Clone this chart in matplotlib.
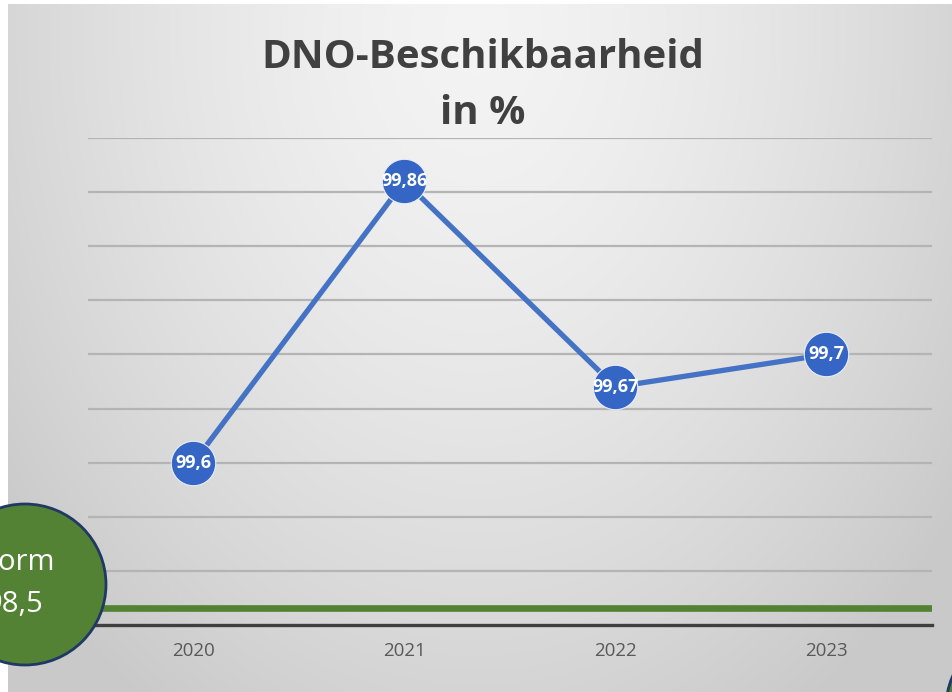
import numpy as np
import matplotlib
matplotlib.use("Agg")
import matplotlib.pyplot as plt
from matplotlib.patches import Ellipse

years = ["2020", "2021", "2022", "2023"]
values = [99.6, 99.86, 99.67, 99.7]
labels = ["99,6", "99,86", "99,67", "99,7"]
norm_line_value = 99.466
y_min, y_max, y_step = 99.45, 99.9, 0.05
title_lines = ["DNO-Beschikbaarheid", "in %"]
norm_lines = ["Norm", "98,5"]

W, H = 953, 692
fig = plt.figure(figsize=(W / 100, H / 100), dpi=100)

# background gradient
bg = fig.add_axes([0, 0, 1, 1], zorder=0)
bg.set_xlim(0, W)
bg.set_ylim(H, 0)
bg.axis("off")
yy, xx = np.mgrid[0:H, 0:W]
d = np.sqrt(((xx - 476) / 560.0) ** 2 + ((yy - 30) / 760.0) ** 2)
v = np.clip(0.955 - 0.15 * d ** 1.5, 0.79, 1)
img = np.dstack([v, v, v])
img[:, :8] = 1.0
img[:4, :] = 1.0
bg.imshow(img, extent=[0, W, H, 0], aspect="auto", interpolation="bilinear")

ax = fig.add_axes([88 / W, (H - 625) / H, (932 - 88) / W, (625 - 138) / H], zorder=2)
ax.patch.set_alpha(0)
x = np.arange(len(years))
ax.set_xlim(-0.5, len(years) - 0.5)
ax.set_ylim(y_min, y_max)
for gy in np.arange(y_min + y_step, y_max + 1e-9, y_step):
    ax.axhline(gy, color="#b4b4b4", lw=1.6, zorder=1)
ax.axhline(norm_line_value, color="#548235", lw=4.8, zorder=2)
ax.axhline(y_min, color="#3f3f3f", lw=2.4, zorder=2, clip_on=False)
for s in ax.spines.values():
    s.set_visible(False)
ax.set_yticks([])
ax.set_xticks(x)
ax.set_xticklabels(years, fontsize=13.5, color="#595959", family="Open Sans")
ax.tick_params(axis="x", length=0, pad=12)

ax.plot(x, values, color="#4472C4", lw=3.8, zorder=3, solid_capstyle="round")
ax.plot(x, values, "o", ms=32, color="#3566C6", mec="#e8eef8", mew=0.8, zorder=4)
for xi, val, lab in zip(x, values, labels):
    ax.text(xi, val, lab, ha="center", va="center", color="white",
            fontsize=13, fontweight="bold", family="Open Sans", zorder=5)

fig.text(483 / W, (H - 58) / H, title_lines[0], ha="center", va="center",
         fontsize=29, fontweight="bold", color="#404040", family="Open Sans", zorder=3)
fig.text(483 / W, (H - 113) / H, title_lines[1], ha="center", va="center",
         fontsize=29, fontweight="bold", color="#404040", family="Open Sans", zorder=3)

ov = fig.add_axes([0, 0, 1, 1], zorder=6)
ov.set_xlim(0, W)
ov.set_ylim(H, 0)
ov.axis("off")
ov.add_patch(Ellipse((25, 584.5), 162, 161, facecolor="#548235", edgecolor="#1f3864", lw=2))
ov.text(15, 563, norm_lines[0], ha="center", va="center", color="white", fontsize=21, family="Open Sans")
ov.text(14, 604, norm_lines[1], ha="center", va="center", color="white", fontsize=21, family="Open Sans")
ov.add_patch(Ellipse((1026, 708), 160, 160, facecolor="#548235", edgecolor="#1f3864", lw=2))

fig.savefig("out.png", dpi=100)
